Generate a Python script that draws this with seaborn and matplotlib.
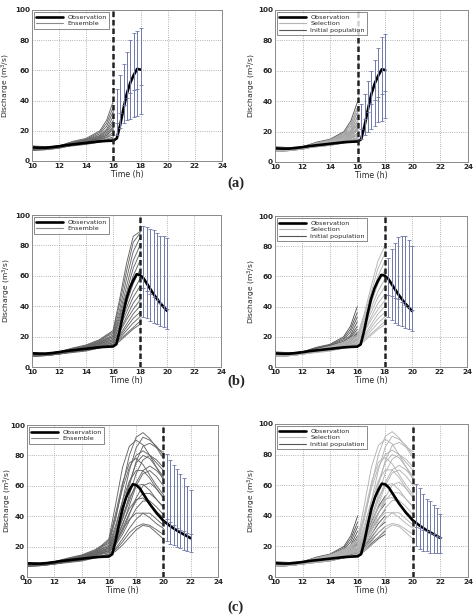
import numpy as np
import pandas as pd
import matplotlib
matplotlib.use("Agg")
import matplotlib.pyplot as plt
from matplotlib.lines import Line2D
import seaborn as sns

# observed hydrograph
obs_t = [10, 10.5, 11, 11.5, 12, 12.5, 13, 13.5, 14, 14.5, 15, 15.5, 16, 16.25, 16.5,
         16.75, 17, 17.25, 17.5, 17.75, 18, 18.25, 18.5, 19, 19.5, 20, 20.5, 21, 21.5, 22]
obs_q = [9, 8.8, 8.8, 9.2, 9.8, 10.5, 11, 11.5, 12, 12.5, 13, 13.3, 13.5, 15, 24,
         35, 45, 52, 57, 61, 60.5, 58.5, 55, 48, 42, 37, 33.5, 30.5, 28, 25.5]

# ensemble (a): 10 - 16 h
ens_a_t = [10, 11, 12, 13, 14, 15, 15.5, 16]
ens_a = [
    [10, 9.5, 10, 13, 15, 20, 27, 40],
    [9.5, 9, 10, 12.5, 14.5, 19, 25, 36],
    [9, 9, 10, 12, 14, 18, 23, 33],
    [8.5, 8.5, 9.5, 12, 14, 17, 21, 30],
    [8, 8.5, 9.5, 11.5, 13.5, 16.5, 20, 27],
    [8, 8, 9, 11.5, 13, 16, 19, 25],
    [7.5, 8, 9, 11, 13, 15.5, 18, 23],
    [7.5, 8, 9, 11, 12.5, 15, 17, 21],
    [7, 7.5, 8.5, 10.5, 12.5, 14.5, 16, 19],
    [7, 7.5, 8.5, 10.5, 12, 14, 15.5, 17.5],
    [9, 8.5, 9.5, 11, 12, 13.5, 14.5, 16],
    [8, 8, 9, 10.5, 11.5, 13, 14, 15],
    [7.5, 8, 9, 10, 11, 12.5, 13.5, 14],
    [8.5, 8.5, 9.5, 11.5, 13, 15, 17, 22],
]

# ensemble (b): 10 - 18 h
ens_b_t = [10, 11, 12, 13, 14, 15, 15.5, 16, 16.5, 17, 17.5, 18]
ens_b = [
    [9.5, 9, 10, 12.5, 14.5, 18, 21, 24, 45, 68, 86, 89],
    [9, 9, 10, 12, 14, 17.5, 20.5, 23, 42, 63, 82, 88],
    [8.5, 8.5, 9.5, 12, 14, 17, 20, 22, 38, 58, 76, 85],
    [8, 8.5, 9.5, 11.5, 13.5, 16.5, 19, 21, 35, 53, 70, 80],
    [8, 8, 9, 11.5, 13.5, 16, 18.5, 20, 33, 49, 65, 75],
    [7.5, 8, 9, 11, 13, 16, 18, 20, 31, 46, 60, 70],
    [7.5, 8, 9, 11, 13, 15.5, 17.5, 19, 29, 42, 55, 64],
    [7, 7.5, 8.5, 10.5, 12.5, 15, 17, 18, 27, 39, 50, 58],
    [9, 8.5, 9.5, 11, 12.5, 15, 16.5, 18, 26, 36, 46, 53],
    [8.5, 8.5, 9.5, 11, 12, 14.5, 16, 17, 24, 33, 42, 48],
    [8, 8, 9, 10.5, 12, 14, 15.5, 17, 23, 31, 38, 44],
    [7.5, 8, 9, 10.5, 11.5, 13.5, 15, 16, 21, 28, 35, 40],
    [7, 7.5, 8.5, 10, 11.5, 13.5, 14.5, 16, 20, 26, 32, 36],
    [8, 8, 9, 10, 11, 13, 14, 15, 19, 24, 29, 33],
    [7.5, 7.5, 8.5, 10, 11, 12.5, 13.5, 15, 18, 22, 26, 30],
    [7, 7.5, 8.5, 9.5, 10.5, 12.5, 13.5, 14, 17, 21, 25, 28],
]

# ensemble (c): 10 - 20 h
ens_c_t = [10, 11, 12, 13, 14, 15, 15.5, 16, 16.5, 17, 17.5, 18, 18.5, 19, 19.5, 20]
ens_c = [
    [9.5, 9, 10, 12.5, 14.5, 18, 21, 25, 48, 72, 86, 90, 87, 80, 72, 64],
    [8.5, 8.5, 9.5, 12, 14, 17, 20, 22, 38, 60, 80, 92, 95, 91, 85, 78],
    [8, 8, 9, 11.5, 13.5, 16, 18.5, 20, 32, 50, 70, 85, 92, 90, 86, 80],
    [7.5, 8, 9, 11, 13, 15.5, 17.5, 19, 28, 42, 60, 76, 86, 88, 85, 82],
    [9, 9, 10, 12, 14, 17.5, 20.5, 24, 42, 62, 75, 78, 74, 67, 60, 54],
    [7, 7.5, 8.5, 10.5, 12.5, 15, 17, 18, 26, 38, 54, 68, 77, 80, 77, 72],
    [8.5, 8.5, 9.5, 11.5, 13.5, 16.5, 19, 21, 34, 50, 63, 70, 70, 65, 58, 52],
    [8, 8, 9, 10.5, 12, 14.5, 16, 17, 24, 34, 47, 60, 68, 70, 66, 60],
    [9, 8.5, 9.5, 11, 13, 15.5, 17.5, 19, 28, 40, 52, 60, 61, 57, 51, 46],
    [7.5, 8, 9, 10.5, 12, 14, 15.5, 16, 22, 30, 41, 52, 60, 62, 58, 52],
    [8, 8, 9, 11, 12.5, 15, 16.5, 18, 25, 35, 45, 51, 52, 48, 43, 39],
    [7, 7.5, 8.5, 10, 11.5, 13.5, 15, 16, 21, 28, 37, 45, 50, 50, 46, 41],
    [8.5, 8.5, 9.5, 11, 12.5, 14.5, 16, 17, 23, 31, 38, 42, 42, 39, 35, 32],
    [7.5, 7.5, 8.5, 10, 11, 13, 14, 15, 19, 25, 32, 38, 42, 42, 38, 34],
    [8, 8, 9, 10, 11, 13, 14, 15, 18, 23, 29, 33, 35, 34, 31, 28],
    [7, 7.5, 8.5, 9.5, 10.5, 12.5, 13.5, 14, 17, 21, 26, 31, 34, 33, 29, 25],
    [8.5, 8.5, 9.5, 11.5, 13.5, 16, 18.5, 20, 30, 45, 62, 75, 80, 78, 72, 66],
    [9, 9, 10, 12, 14, 17, 20, 23, 40, 58, 72, 80, 83, 80, 75, 70],
    [8, 8, 9, 11, 13, 15.5, 17.5, 19, 27, 38, 50, 62, 70, 73, 70, 65],
    [7.5, 8, 9, 10.5, 12, 14.5, 16, 17, 23, 32, 42, 50, 55, 55, 51, 46],
]

# forecast bounds (time, upper, middle, lower)
fc_t_a = [16.25, 16.5, 16.75, 17, 17.25, 17.5, 17.75, 18]
fc_top_a = [48, 57, 64, 72, 80, 85, 86, 88]
fc_mid_a = [25, 32, 37, 42, 45, 47, 48, 50]
fc_low_a = [17, 22, 25, 27, 28, 29, 30, 31]
fc_top_a2 = [38, 45, 53, 60, 67, 75, 82, 84]
fc_mid_a2 = [22, 28, 33, 38, 41, 43, 45, 47]
fc_low_a2 = [15, 18, 20, 22, 24, 26, 27, 29]

fc_t_b = [18.25, 18.5, 18.75, 19, 19.25, 19.5, 19.75, 20]
fc_top_b = [93, 92, 91, 90, 88, 86, 86, 85]
fc_mid_b = [52, 50, 48, 46, 44, 42, 40, 38]
fc_low_b = [33, 32, 30, 29, 28, 27, 26, 25]
fc_top_b2 = [72, 78, 82, 86, 87, 87, 84, 80]
fc_mid_b2 = [48, 47, 46, 45, 43, 41, 40, 38]
fc_low_b2 = [33, 31, 29, 28, 27, 26, 25, 24]

fc_t_c = [20.25, 20.5, 20.75, 21, 21.25, 21.5, 21.75, 22]
fc_top_c = [81, 77, 74, 71, 68, 65, 60, 57]
fc_mid_c = [38, 36, 34, 32, 31, 30, 29, 28]
fc_low_c = [24, 22, 21, 20, 19, 18, 17, 16.5]
fc_top_c2 = [61, 58, 54, 51, 50, 47, 45, 41]
fc_mid_c2 = [33, 32, 31, 30, 29, 28, 27, 26]
fc_low_c2 = [20, 18, 17, 17, 16, 16, 16, 16]

sel_a = list(range(1, 14))
sel_b = list(range(3, 16))
init_b_from = 8

ENS_COL = "#666666"
SEL_COL = "#b4b4b4"
INIT_COL = "#555555"
BAR_COL = "#6f78a8"


def to_long(times, members, idx=None):
    rows = []
    idx = range(len(members)) if idx is None else idx
    for i in idx:
        for t, q in zip(times, members[i]):
            rows.append((i, t, q))
    return pd.DataFrame(rows, columns=["member", "time", "q"])


def draw_ens(ax, times, members, color, idx=None, lw=0.65):
    df = to_long(times, members, idx)
    sns.lineplot(data=df, x="time", y="q", units="member", estimator=None,
                 color=color, lw=lw, ax=ax, legend=False)


def finish(ax, t_now, t_end, fc, right, ylab_x):
    ot = [t for t in obs_t if t <= t_end]
    oq = obs_q[:len(ot)]
    sns.lineplot(x=ot, y=oq, color="black", lw=1.9, ax=ax)
    ft, top, mid, low = fc
    top, mid, low = np.array(top), np.array(mid), np.array(low)
    ax.errorbar(ft, mid, yerr=[mid - low, top - mid], fmt="none", ecolor=BAR_COL,
                elinewidth=0.7, capsize=1.6, capthick=0.6)
    ax.plot(ft, mid, ls="none", marker="_", ms=3, mew=0.6, color=BAR_COL)
    ax.axvline(t_now, color="#222222", ls=(0, (2.2, 1.2)), lw=1.8)
    ax.set_xlim(10, 24)
    ax.set_ylim(0, 100)
    ax.set_xticks(range(10, 25, 2))
    ax.set_yticks(range(0, 101, 20))
    ax.grid(True, color="#9a9a9a", ls=":", lw=0.6)
    ax.tick_params(direction="in", labelsize=5.2, length=2, width=0.5, pad=1.5)
    for lab in ax.get_xticklabels() + ax.get_yticklabels():
        lab.set_fontweight("bold")
    for s in ax.spines.values():
        s.set_color("#8a8a8a")
        s.set_linewidth(0.7)
    ax.set_xlabel("Time (h)", fontsize=5.6, labelpad=0.5)
    ax.set_ylabel("Discharge (m$^3$/s)", fontsize=5.4)
    ax.yaxis.set_label_coords(ylab_x, 0.5)
    if right:
        handles = [Line2D([], [], color="black", lw=1.9),
                   Line2D([], [], color=SEL_COL, lw=0.8),
                   Line2D([], [], color=INIT_COL, lw=0.8)]
        labels = ["Observation", "Selection", "Initial population"]
    else:
        handles = [Line2D([], [], color="black", lw=1.9),
                   Line2D([], [], color="#8a8a8a", lw=0.8)]
        labels = ["Observation", "Ensemble"]
    leg = ax.legend(handles, labels, loc="upper left", fontsize=4.6, frameon=True,
                    fancybox=False, edgecolor="#555555", handlelength=4.2,
                    borderpad=0.35, labelspacing=0.15, handletextpad=0.6,
                    borderaxespad=0.35)
    leg.get_frame().set_linewidth(0.6)


sns.set_style("white")
plt.rcParams["font.family"] = ["DejaVu Sans"]

fig = plt.figure(figsize=(4.77, 6.15), dpi=100)
W, H = 477.0, 615.0


def add_ax(x0, x1, ytop, ybot):
    return fig.add_axes([x0 / W, 1 - ybot / H, (x1 - x0) / W, (ybot - ytop) / H])


# row (a)
ax = add_ax(32, 222, 10, 161)
draw_ens(ax, ens_a_t, ens_a, ENS_COL)
finish(ax, 16, 18, (fc_t_a, fc_top_a, fc_mid_a, fc_low_a), False, -0.105)

ax = add_ax(275, 468, 10, 162)
draw_ens(ax, ens_a_t, ens_a, INIT_COL)
draw_ens(ax, ens_a_t, ens_a, SEL_COL, sel_a)
finish(ax, 16, 18, (fc_t_a, fc_top_a2, fc_mid_a2, fc_low_a2), True, -0.088)

# row (b)
ax = add_ax(32, 221, 215, 367)
draw_ens(ax, ens_b_t, ens_b, ENS_COL)
finish(ax, 18, 20, (fc_t_b, fc_top_b, fc_mid_b, fc_low_b), False, -0.1)

ax = add_ax(275, 467, 216, 367)
draw_ens(ax, ens_a_t, ens_a, INIT_COL)
draw_ens(ax, ens_b_t, ens_b, SEL_COL, sel_b)
finish(ax, 18, 20, (fc_t_b, fc_top_b2, fc_mid_b2, fc_low_b2), True, -0.088)

# row (c)
ax = add_ax(27, 218, 425, 577)
draw_ens(ax, ens_c_t, ens_c, ENS_COL)
finish(ax, 20, 22, (fc_t_c, fc_top_c, fc_mid_c, fc_low_c), False, -0.068)

ax = add_ax(275, 468, 424, 577)
draw_ens(ax, ens_a_t, ens_a, INIT_COL)
draw_ens(ax, ens_b_t, ens_b, INIT_COL, list(range(init_b_from, len(ens_b))))
draw_ens(ax, ens_c_t, ens_c, SEL_COL)
finish(ax, 20, 22, (fc_t_c, fc_top_c2, fc_mid_c2, fc_low_c2), True, -0.09)

for lab, yc in [("(a)", 183), ("(b)", 381), ("(c)", 607)]:
    fig.text(236 / W, 1 - yc / H, lab, ha="center", va="center", fontsize=10.5,
             fontweight="bold", family=["Liberation Serif", "DejaVu Serif"])

fig.savefig("out.png", dpi=100)
